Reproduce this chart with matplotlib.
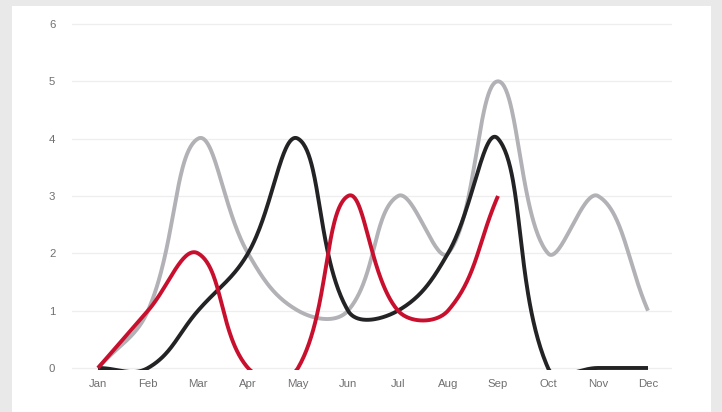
import numpy as np
import matplotlib
matplotlib.use("Agg")
import matplotlib.pyplot as plt
from matplotlib.patches import Rectangle

months = ["Jan", "Feb", "Mar", "Apr", "May", "Jun", "Jul", "Aug", "Sep", "Oct", "Nov", "Dec"]
gray_vals = [0, 1, 4, 2, 1, 1, 3, 2, 5, 2, 3, 1]
black_vals = [0, 0, 1, 2, 4, 1, 1, 2, 4, 0, 0, 0]
red_vals = [0, 1, 2, 0, 0, 3, 1, 1, 3]

# pixel scale used for the spline so the curve shape follows screen distances
XS, YS = 50.0, 57.3
TENSION = 0.4


def spline(values, n=60):
    pts = np.array([[i * XS, v * YS] for i, v in enumerate(values)], dtype=float)
    m = len(pts)
    ctrl_prev = pts.copy()
    ctrl_next = pts.copy()
    for i in range(m):
        prev = pts[max(i - 1, 0)]
        cur = pts[i]
        nxt = pts[min(i + 1, m - 1)]
        d01 = np.hypot(*(cur - prev))
        d12 = np.hypot(*(nxt - cur))
        tot = d01 + d12
        s01 = d01 / tot if tot else 0
        s12 = d12 / tot if tot else 0
        ctrl_prev[i] = cur - TENSION * s01 * (nxt - prev)
        ctrl_next[i] = cur + TENSION * s12 * (nxt - prev)
    xs, ys = [], []
    t = np.linspace(0, 1, n)[:, None]
    for i in range(m - 1):
        p0, p1, p2, p3 = pts[i], ctrl_next[i], ctrl_prev[i + 1], pts[i + 1]
        seg = ((1 - t) ** 3) * p0 + 3 * ((1 - t) ** 2) * t * p1 + 3 * (1 - t) * t ** 2 * p2 + t ** 3 * p3
        xs.extend(seg[:, 0] / XS)
        ys.extend(seg[:, 1] / YS)
    return np.array(xs), np.array(ys)


plt.rcParams["font.family"] = ["Liberation Sans", "DejaVu Sans"]

fig = plt.figure(figsize=(7.22, 4.12), dpi=100)
fig.patch.set_facecolor("#e9e9e9")
fig.patches.append(Rectangle((12 / 722, 0), 699 / 722, 406 / 412,
                             transform=fig.transFigure, facecolor="white",
                             edgecolor="none", zorder=-10))

ax = fig.add_axes([72 / 722, 42.3 / 412, 600 / 722, 347.4 / 412])
ax.set_facecolor("none")

for vals, color in [(gray_vals, "#b1b1b6"), (black_vals, "#232326"), (red_vals, "#c8102e")]:
    x, y = spline(vals)
    ax.plot(x, y, color=color, lw=2.8, solid_capstyle="butt", zorder=3)

ax.set_xlim(-0.52, 11.48)
ax.set_ylim(-0.03, 6.03)
ax.set_yticks(range(7))
ax.set_xticks(range(12))
ax.set_xticklabels(months)
ax.grid(axis="y", color="#eeeeee", lw=0.9)
ax.set_axisbelow(True)
for s in ax.spines.values():
    s.set_visible(False)
ax.tick_params(length=0, labelsize=8.2, colors="#707070")
ax.tick_params(axis="y", pad=12)
ax.tick_params(axis="x", pad=7)

fig.savefig("out.png", dpi=100)
